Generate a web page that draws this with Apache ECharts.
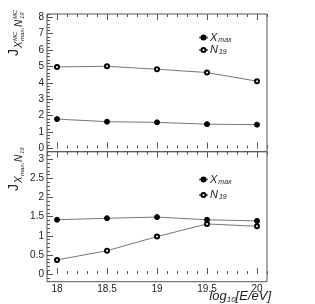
<!DOCTYPE html>
<html><head><meta charset="utf-8">
<script src="https://cdn.jsdelivr.net/npm/echarts@6/dist/echarts.min.js"></script>
<style>html,body{margin:0;padding:0;background:#fff}#c{width:315px;height:304px}</style>
</head><body><div id="c"></div>
<script>
const energies = [18, 18.5, 19, 19.5, 20];
const mcXmax = [1.79, 1.63, 1.59, 1.48, 1.45];
const mcN19 = [4.97, 5.01, 4.83, 4.63, 4.10];
const dataXmax = [1.42, 1.46, 1.49, 1.42, 1.39];
const dataN19 = [0.37, 0.61, 0.98, 1.31, 1.25];
const xTicks = [18, 18.5, 19, 19.5, 20];
const yTicksTop = [0, 1, 2, 3, 4, 5, 6, 7, 8];
const yTicksBottom = [0, 0.5, 1, 1.5, 2, 2.5, 3];

const FONT = 'Liberation Sans';
const TXT = '#222';
const FRAME = '#555';
const pair = (xs, ys) => xs.map((x, i) => [x, ys[i]]);

const grids = [
  {left: 47, top: 14, width: 220, height: 137.7},
  {left: 47, top: 151.7, width: 220, height: 130}
];
const xAxes = [];
const yAxes = [];
const yCfg = [
  {min: -0.2, max: 8.2, minor: 0.2, major: yTicksTop},
  {min: -0.2, max: 3.2, minor: 0.1, major: yTicksBottom}
];
grids.forEach((g, gi) => {
  ['bottom', 'top'].forEach(pos => {
    xAxes.push({gridIndex: gi, type: 'value', position: pos, min: 17.9, max: 20.1, interval: 0.1,
      axisLine: {show: false}, splitLine: {show: false},
      axisTick: {inside: true, length: 3, lineStyle: {color: FRAME}},
      axisLabel: {show: false}});
    xAxes.push({gridIndex: gi, type: 'value', position: pos, min: 17.9, max: 20.1,
      axisLine: {show: false}, splitLine: {show: false},
      axisTick: {inside: true, length: 6, customValues: xTicks, lineStyle: {color: FRAME}},
      axisLabel: {show: gi === 1 && pos === 'bottom', customValues: xTicks, margin: 3,
        fontFamily: FONT, fontSize: 10, color: TXT}});
  });
  const c = yCfg[gi];
  yAxes.push({gridIndex: gi, type: 'value', position: 'left', min: c.min, max: c.max, interval: c.minor,
    axisLine: {show: false}, splitLine: {show: false},
    axisTick: {inside: true, length: 3, lineStyle: {color: FRAME}},
    axisLabel: {show: false}});
  yAxes.push({gridIndex: gi, type: 'value', position: 'left', min: c.min, max: c.max,
    axisLine: {show: false}, splitLine: {show: false},
    axisTick: {inside: true, length: 6, customValues: c.major, lineStyle: {color: FRAME}},
    axisLabel: {customValues: c.major, margin: 3, fontFamily: FONT, fontSize: 10, color: TXT}});
});

function mkSeries(name, data, gi, filled) {
  return {
    name: name, type: 'line', xAxisIndex: gi * 4 + 1, yAxisIndex: gi * 2 + 1,
    data: data, symbol: filled ? 'circle' : 'emptyCircle', symbolSize: filled ? 5 : 4,
    lineStyle: {color: '#777', width: 1},
    itemStyle: {color: '#000', borderColor: '#000', borderWidth: filled ? 1 : 0.8},
    emphasis: {disabled: true}
  };
}

const legendRich = {
  i: {fontStyle: 'italic', fontSize: 11, fontFamily: FONT, color: TXT},
  s: {fontStyle: 'italic', fontSize: 7, fontFamily: FONT, color: TXT, padding: [5, 0, 0, 1]}
};
const legendFmt = n => n === 'Xmax' ? '{i|X}{s|max}' : '{i|N}{s|19}';
function mkLegend(gi, top, gap) {
  return {
    orient: 'vertical', left: 193, top: top, itemWidth: 9, itemHeight: 5, itemGap: gap,
    data: ['Xmax', 'N19'], selectedMode: false, formatter: legendFmt,
    textStyle: {rich: legendRich, padding: [0, 0, 0, -3]}
  };
}

function titleGroup(x, y, parts) {
  return {type: 'group', x: x, y: y, rotation: Math.PI / 2, silent: true,
    children: parts.map(p => ({type: 'text', x: p[1], y: p[2],
      style: {text: p[0], fontSize: p[3], fontStyle: p[4] ? 'italic' : 'normal',
        fontFamily: FONT, fill: TXT, verticalAlign: 'middle'}}))};
}

const chart = echarts.init(document.getElementById('c'));
chart.setOption({
  animation: false,
  grid: grids.map(g => Object.assign({show: true, borderColor: FRAME, borderWidth: 1, backgroundColor: 'transparent'}, g)),
  xAxis: xAxes,
  yAxis: yAxes,
  legend: [mkLegend(0, 27, 1), mkLegend(1, 169, 4)],
  series: [
    mkSeries('Xmax', pair(energies, mcXmax), 0, true),
    mkSeries('N19', pair(energies, mcN19), 0, false),
    mkSeries('Xmax', pair(energies, dataXmax), 1, true),
    mkSeries('N19', pair(energies, dataN19), 1, false)
  ],
  graphic: [
    titleGroup(14, 56, [
      ['J', 0, 0, 14, false],
      ['X', 8, 5, 10, true],
      ['max', 15, 8, 6, true],
      ['MC', 15, 1, 6, true],
      [',', 26, 7, 8, false],
      ['N', 29, 5, 10, true],
      ['19', 37, 8, 6, true],
      ['MC', 37, 1, 6, true]
    ]),
    titleGroup(14, 191, [
      ['J', 0, 0, 14, false],
      ['X', 8, 5, 10, true],
      ['max', 15, 8, 6, true],
      [',', 26, 7, 8, false],
      ['N', 29, 5, 10, true],
      ['19', 37, 8, 6, true]
    ]),
    {type: 'text', right: 44, top: 290, silent: true,
      style: {text: '{a|log}{b|10}{a|[E/eV]}', fill: TXT,
        rich: {a: {fontSize: 13, fontStyle: 'italic', fontFamily: FONT, fill: TXT, color: TXT},
               b: {fontSize: 8, fontStyle: 'italic', fontFamily: FONT, fill: TXT, color: TXT, padding: [7, 0, 0, 0]}}}}
  ]
});
</script></body></html>
